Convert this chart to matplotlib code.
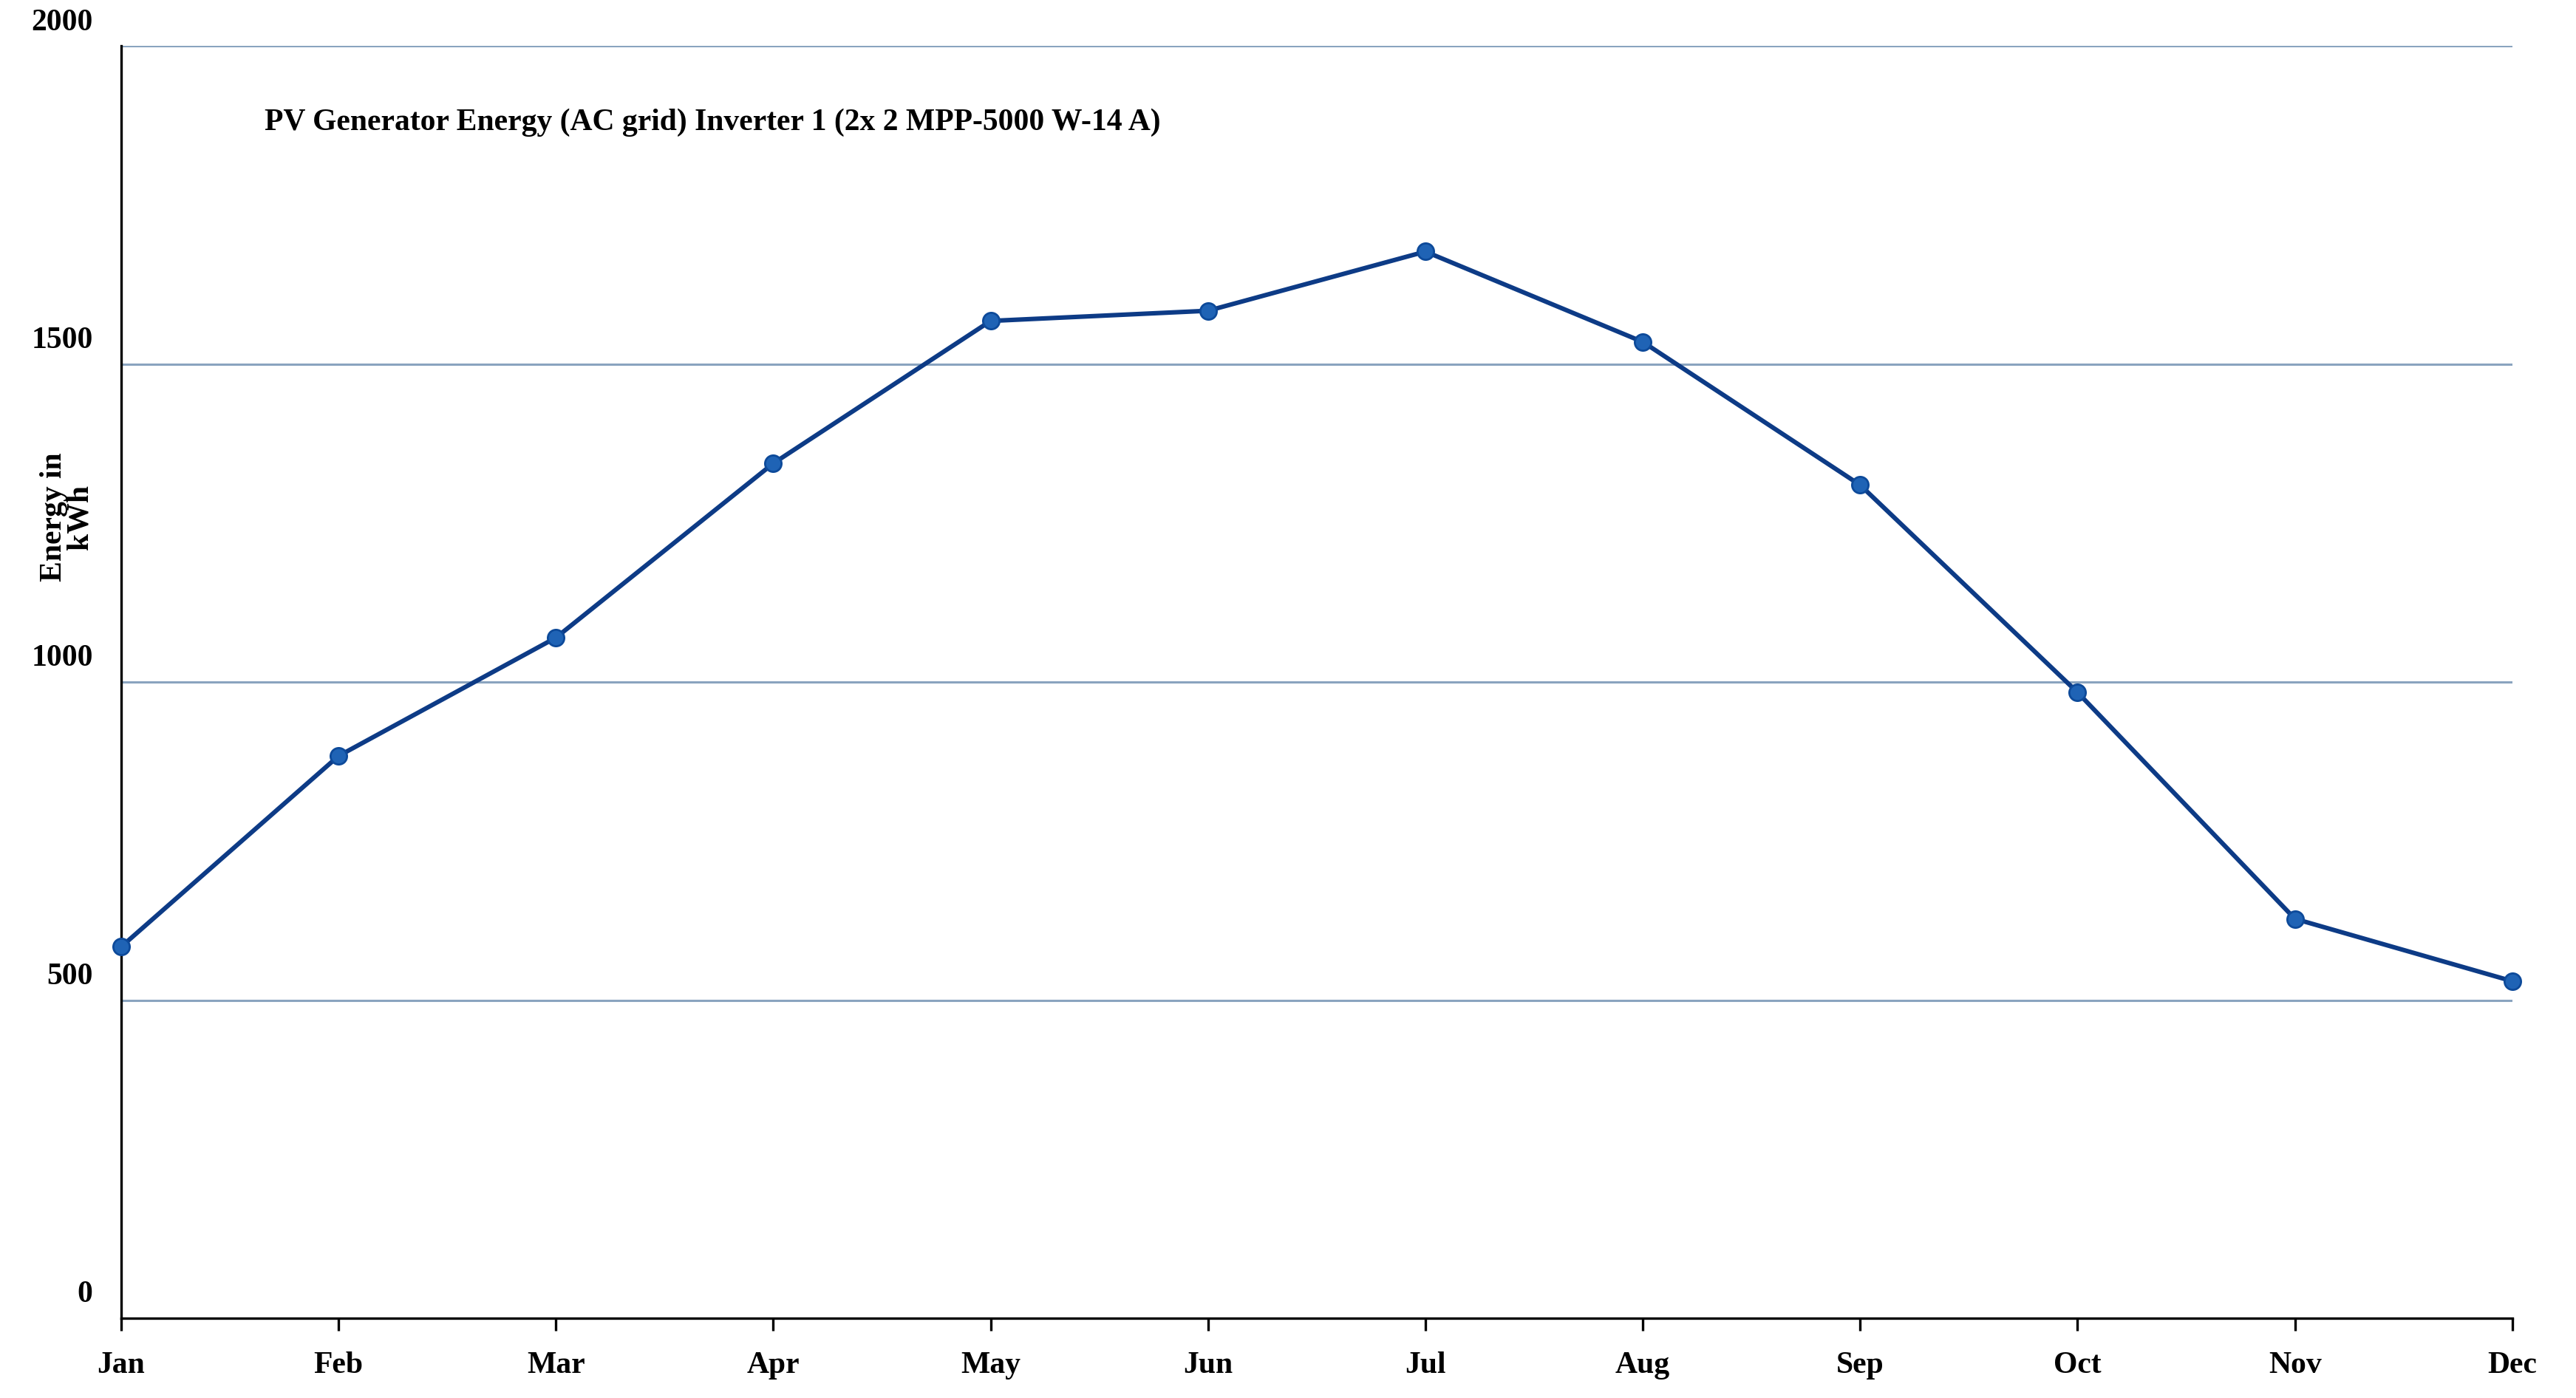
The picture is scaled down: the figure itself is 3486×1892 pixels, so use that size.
import matplotlib
matplotlib.use("Agg")
import matplotlib.pyplot as plt

months = ["Jan","Feb","Mar","Apr","May","Jun","Jul","Aug","Sep","Oct","Nov","Dec"]
energy = [584, 884, 1070, 1344, 1568, 1584, 1677, 1535, 1310, 984, 628, 530]
yticks = [0, 500, 1000, 1500, 2000]

plt.rcParams['font.family'] = ['Liberation Serif', 'DejaVu Serif']
fig = plt.figure(figsize=(17.435, 9.46), dpi=200)
ax = fig.add_axes([0.047, 0.057, 0.928, 0.91])
x = list(range(len(months)))
ax.plot(x, energy, color='#0d3b86', lw=2.2, marker='o', ms=8,
        markerfacecolor='#1f63b5', markeredgecolor='#0d4a9a', zorder=3, clip_on=False)
ax.set_xlim(0, 11)
ax.set_ylim(0, 2000)
ax.set_xticks(x)
ax.set_xticklabels(months, fontsize=15, fontweight='bold')
ax.set_yticks(yticks)
ax.set_yticklabels([])
for v in yticks:
    if v > 0:
        ax.axhline(v, color='#8aa4bf', lw=1.1, zorder=1)
    ax.text(-0.13, v + 15, str(v), ha='right', va='bottom', fontsize=15, fontweight='bold')
ax.tick_params(axis='y', length=0)
ax.tick_params(axis='x', length=6, width=1.2, pad=10)
for s in ['top', 'right']:
    ax.spines[s].set_visible(False)
ax.spines['left'].set_linewidth(1.2)
ax.spines['bottom'].set_linewidth(1.2)
ax.text(0.06, 0.94, "PV Generator Energy (AC grid) Inverter 1 (2x 2 MPP-5000 W-14 A)",
        transform=ax.transAxes, fontsize=15, fontweight='bold', va='center')
fig.text(0.026, 0.63, "Energy in\nkWh", rotation=90, ha='center', va='center',
         fontsize=15, fontweight='bold', linespacing=0.9)
fig.savefig("out.png", dpi=200)
